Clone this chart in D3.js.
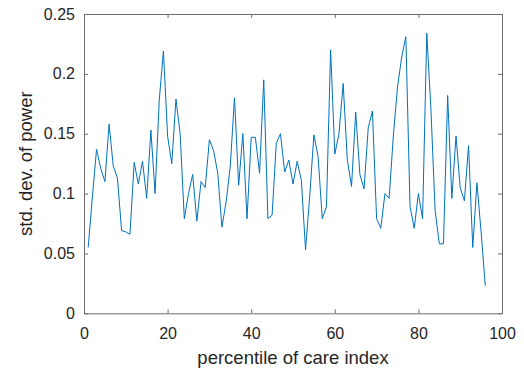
<!DOCTYPE html>
<html><head><meta charset="utf-8">
<script src="https://cdn.jsdelivr.net/npm/d3@7"></script>
<style>
html,body{margin:0;padding:0;background:#fff;}
svg text{font-family:"Liberation Sans",Arial,sans-serif;}
</style></head>
<body><svg id="chart" width="524" height="372"></svg>
<script>
const percentile = d3.range(1, 97);
const stdPower = [
0.055,0.097,0.137,0.121,0.110,0.158,0.123,0.113,0.069,0.068,
0.066,0.126,0.108,0.127,0.096,0.153,0.100,0.178,0.219,0.148,
0.125,0.179,0.150,0.079,0.100,0.116,0.077,0.110,0.105,0.145,
0.136,0.117,0.072,0.093,0.123,0.180,0.107,0.150,0.079,0.147,
0.147,0.117,0.195,0.079,0.082,0.142,0.150,0.118,0.128,0.108,
0.127,0.111,0.053,0.098,0.149,0.131,0.079,0.089,0.220,0.133,
0.150,0.192,0.128,0.106,0.168,0.116,0.104,0.155,0.169,0.079,
0.071,0.100,0.096,0.148,0.189,0.214,0.231,0.089,0.071,0.100,
0.079,0.234,0.170,0.086,0.058,0.058,0.182,0.096,0.148,0.105,
0.094,0.140,0.055,0.109,0.068,0.023];
const xTicks = [0,20,40,60,80,100];
const yTicks = [0,0.05,0.1,0.15,0.2,0.25];
const yTickLabels = ["0","0.05","0.1","0.15","0.2","0.25"];
const xLabel = "percentile of care index";
const yLabel = "std. dev. of power";

const svg = d3.select("#chart");
const L = 84, R = 502, T = 14, B = 313.3;
const x = d3.scaleLinear().domain([0,100]).range([L,R]);
const y = d3.scaleLinear().domain([0,0.25]).range([B,T]);
const axisCol = "#6e6e6e", textCol = "#262626";

function style(g){
  g.select(".domain").attr("stroke", axisCol);
  g.selectAll(".tick line").attr("stroke", axisCol);
  g.selectAll(".tick text").attr("fill", textCol).style("font-size","16px");
}

svg.append("g").attr("transform",`translate(0,${B})`)
  .call(d3.axisBottom(x).tickValues(xTicks).tickSizeInner(-4).tickSizeOuter(0).tickPadding(14).tickFormat(d3.format("d")))
  .call(style);
svg.append("g").attr("transform",`translate(0,${T})`)
  .call(d3.axisTop(x).tickValues(xTicks).tickSizeInner(-4).tickSizeOuter(0).tickFormat(""))
  .call(style);
svg.append("g").attr("transform",`translate(${L},0)`)
  .call(d3.axisLeft(y).tickValues(yTicks).tickSizeInner(-4).tickSizeOuter(0).tickPadding(9)
    .tickFormat((d,i)=>yTickLabels[i]))
  .call(style);
svg.append("g").attr("transform",`translate(${R},0)`)
  .call(d3.axisRight(y).tickValues(yTicks).tickSizeInner(-4).tickSizeOuter(0).tickFormat(""))
  .call(style);

const line = d3.line().x((d,i)=>x(percentile[i])).y(d=>y(d));
svg.append("path").datum(stdPower)
  .attr("fill","none").attr("stroke","#0072BD").attr("stroke-width",1)
  .attr("stroke-linejoin","round").attr("d", line);

svg.append("text").attr("x",(L+R)/2).attr("y",364)
  .attr("text-anchor","middle").attr("fill",textCol).style("font-size","18.5px").text(xLabel);
svg.append("text").attr("transform",`translate(32,${(T+B)/2}) rotate(-90)`)
  .attr("text-anchor","middle").attr("fill",textCol).style("font-size","18.5px").text(yLabel);
</script></body></html>
